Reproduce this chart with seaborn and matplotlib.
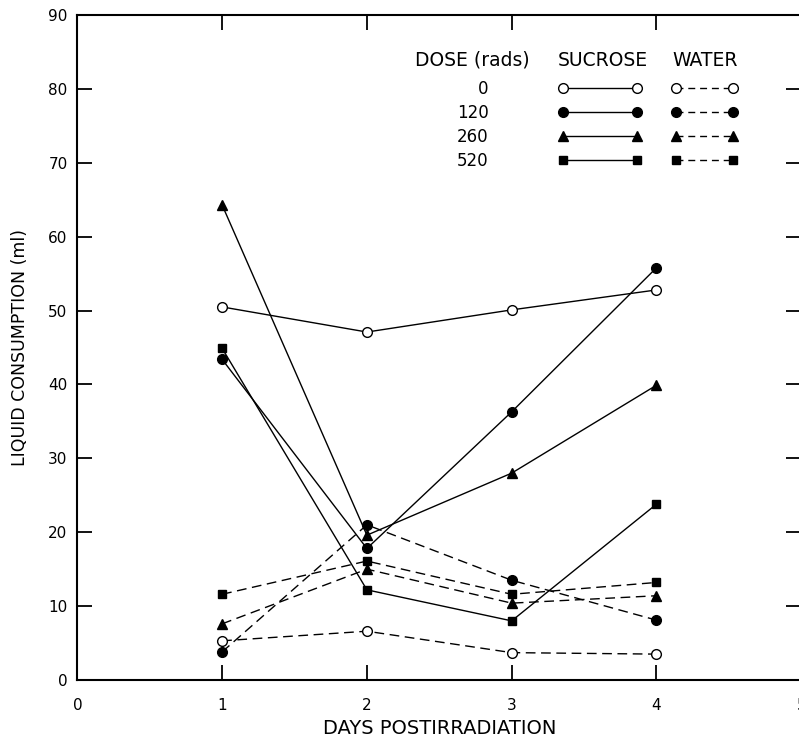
import matplotlib
matplotlib.use('Agg')
import matplotlib.pyplot as plt
from matplotlib.lines import Line2D
import pandas as pd
import seaborn as sns

# values (ml of liquid per day after irradiation)
days = [1, 2, 3, 4]
doses = ['0', '120', '260', '520']
sucrose_0 = [50.5, 47.1, 50.1, 52.8]
sucrose_120 = [43.4, 17.8, 36.3, 55.8]
sucrose_260 = [64.3, 19.6, 28.0, 39.9]
sucrose_520 = [44.9, 12.2, 8.0, 23.8]
water_0 = [5.3, 6.6, 3.7, 3.5]
water_120 = [3.8, 21.0, 13.5, 8.1]
water_260 = [7.6, 15.0, 10.4, 11.4]
water_520 = [11.6, 16.1, 11.6, 13.2]

sucrose = [sucrose_0, sucrose_120, sucrose_260, sucrose_520]
water = [water_0, water_120, water_260, water_520]

rows = []
for dose, s, w in zip(doses, sucrose, water):
    for d, sv, wv in zip(days, s, w):
        rows.append({'liquid': 'SUCROSE', 'dose': dose, 'day': d, 'ml': sv})
        rows.append({'liquid': 'WATER', 'dose': dose, 'day': d, 'ml': wv})
df = pd.DataFrame(rows)

markers = {'0': 'o', '120': 'o', '260': '^', '520': 's'}
faces = {'0': 'white', '120': 'black', '260': 'black', '520': 'black'}
msizes = {'0': 7, '120': 7, '260': 7, '520': 6}
lstyles = {'SUCROSE': '-', 'WATER': (0, (7, 4))}

sns.set_style('ticks')
plt.rcParams['font.family'] = ['DejaVu Sans']
plt.rcParams['text.color'] = 'black'
plt.rcParams['axes.labelcolor'] = 'black'

fig = plt.figure(figsize=(7.99, 7.42), dpi=100)
ax = fig.add_axes([0.0968, 0.0836, 0.906, 0.896])

for (liquid, dose), sub in df.groupby(['liquid', 'dose']):
    sns.lineplot(data=sub, x='day', y='ml', ax=ax, color='black',
                 linewidth=1.0, linestyle=lstyles[liquid],
                 marker=markers[dose], markersize=msizes[dose],
                 markerfacecolor=faces[dose], markeredgecolor='black',
                 markeredgewidth=1.0, legend=False)

ax.set_xlim(0, 5)
ax.set_ylim(0, 90)
ax.set_xticks(range(0, 6))
ax.set_yticks(range(0, 91, 10))
ax.set_xlabel('DAYS POSTIRRADIATION', fontsize=14, labelpad=4)
ax.set_ylabel('LIQUID CONSUMPTION (ml)', fontsize=12.5, labelpad=14)
ax.tick_params(axis='both', direction='in', length=11, width=1.3,
               top=True, right=True, labelsize=11, colors='black')
ax.tick_params(axis='x', pad=13)
ax.tick_params(axis='y', pad=7)
for sp in ax.spines.values():
    sp.set_linewidth(1.5)
    sp.set_color('black')

# legend table
ax.text(2.334, 83.9, 'DOSE (rads)', fontsize=13.5, va='center', ha='left')
ax.text(3.315, 83.9, 'SUCROSE', fontsize=13.5, va='center', ha='left')
ax.text(4.11, 83.9, 'WATER', fontsize=13.5, va='center', ha='left')

suc_handles = [Line2D([], [], color='black', lw=1.0, marker=markers[d],
                      markersize=msizes[d], markerfacecolor=faces[d],
                      markeredgecolor='black') for d in doses]
wat_handles = [Line2D([], [], color='black', lw=1.0, linestyle=(0, (5, 3.5)),
                      marker=markers[d], markersize=msizes[d],
                      markerfacecolor=faces[d], markeredgecolor='black')
               for d in doses]

leg1 = ax.legend(suc_handles, doses, loc='upper right',
                 bbox_to_anchor=(3.903, 81.2), bbox_transform=ax.transData,
                 frameon=False, markerfirst=False, numpoints=2,
                 handlelength=5.04, handletextpad=4.2, labelspacing=0.35,
                 borderpad=0, borderaxespad=0, fontsize=12)
ax.add_artist(leg1)
ax.legend(wat_handles, [' '] * 4, loc='upper left',
          bbox_to_anchor=(4.103, 81.2), bbox_transform=ax.transData,
          frameon=False, numpoints=2, handlelength=4.02, handletextpad=0.2,
          labelspacing=0.35, borderpad=0, borderaxespad=0, fontsize=12)

fig.savefig('out.png', dpi=100)
